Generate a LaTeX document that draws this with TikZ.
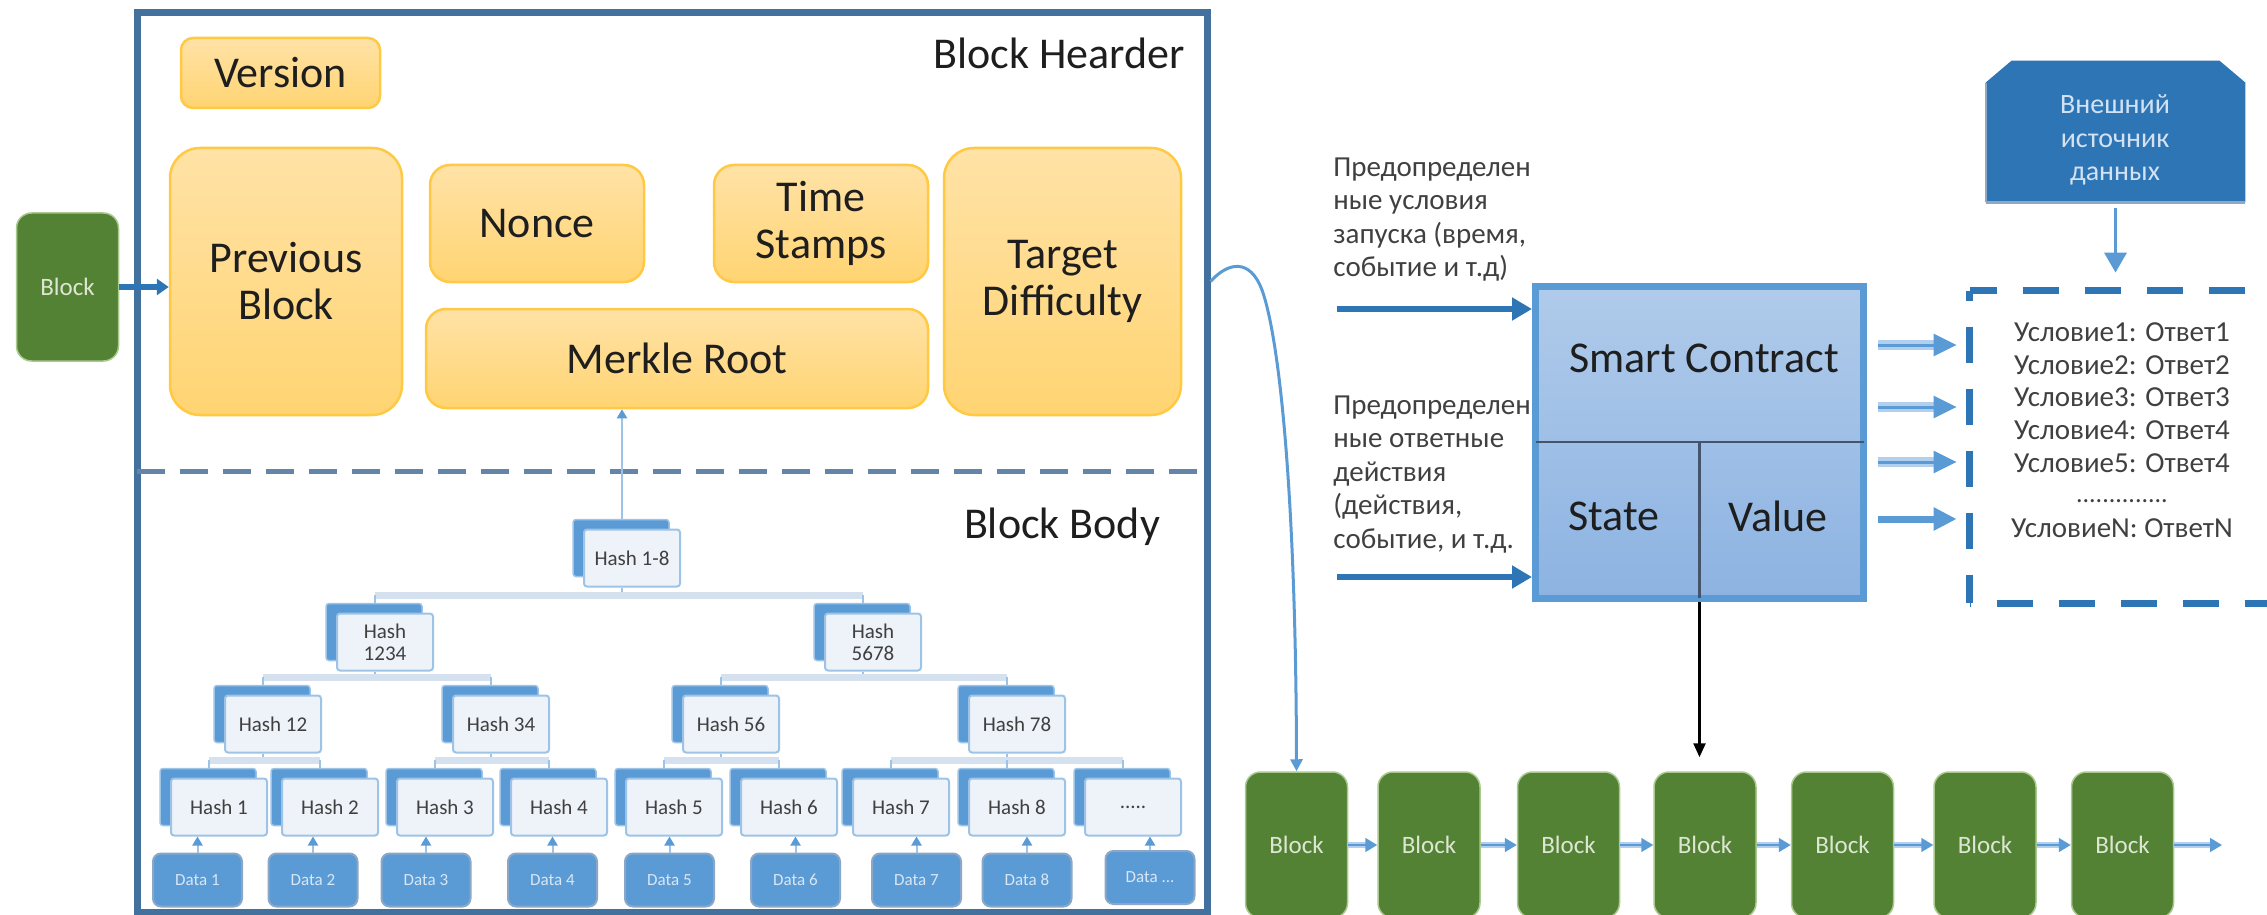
\documentclass[tikz,border=0pt]{standalone}
\usepackage{fontspec}
\setmainfont{Carlito}
\usetikzlibrary{arrows.meta,shadows}
\newcommand{\myfs}[2]{\fontsize{#1}{#2}\selectfont}
\definecolor{mainborder}{HTML}{41719C}
\definecolor{obord}{HTML}{FFC943}
\definecolor{otop}{HTML}{FFE2A6}
\definecolor{obot}{HTML}{FFD472}
\definecolor{txtdark}{HTML}{1E1E1E}
\definecolor{txtgray}{HTML}{404040}
\definecolor{hback}{HTML}{5B9BD5}
\definecolor{hfront}{HTML}{EEF3FA}
\definecolor{hedge}{HTML}{9DC3E6}
\definecolor{dfill}{HTML}{5B9BD5}
\definecolor{dedge}{HTML}{8AA7C7}
\definecolor{dtext}{HTML}{D9E6F4}
\definecolor{tbar}{HTML}{D5E1EE}
\definecolor{gfill}{HTML}{548235}
\definecolor{gedge}{HTML}{A9C98E}
\definecolor{gtext}{HTML}{DDE6D3}
\definecolor{sctop}{HTML}{B0CBEA}
\definecolor{scbot}{HTML}{8DB3E2}
\definecolor{midblue}{HTML}{5B9BD5}
\definecolor{darkblue}{HTML}{2E75B6}
\definecolor{paleblue}{HTML}{B3CFEE}
\definecolor{divgray}{HTML}{44546A}
\definecolor{sepcol}{HTML}{6585A8}
\definecolor{extfill}{HTML}{2E75B6}
\definecolor{extedge}{HTML}{8FA9C4}
\definecolor{extlabelcol}{HTML}{D3E2F3}
\begin{document}
\begin{tikzpicture}[x=0.5pt,y=-0.5pt,
  mainframe/.style={rectangle, draw=mainborder, line width=3.5pt, minimum width=535pt, minimum height=449.5pt, inner sep=0pt},
  titletxt/.style={font=\myfs{22}{24}, text=txtdark, inner sep=0pt},
  orangebox/.style={rectangle, draw=obord, line width=1.25pt, top color=otop, bottom color=obot, align=center, font=\myfs{22}{23.5}, text=txtdark, inner sep=0pt},
  sepline/.style={draw=sepcol, line width=2.5pt, dash pattern=on 14pt off 7.5pt},
  blockn/.style={rectangle, rounded corners=7.5pt, fill=gfill, draw=gedge, line width=0.75pt, minimum width=51pt, minimum height=73pt, text=gtext, font=\myfs{12.5}{14}, inner sep=0pt},
  lbarrow/.style={draw=darkblue, line width=3pt, -{Triangle[length=6pt,width=8pt]}},
  hashn/.style={rectangle, rounded corners=1.5pt, fill=hfront, draw=hedge, line width=1pt, minimum width=48pt, minimum height=28.5pt, inner sep=0pt, align=center, font=\myfs{10.5}{11}, text=txtgray, general shadow={fill=hback, draw=hedge, line width=0.75pt, shadow xshift=-5.5pt, shadow yshift=5pt}},
  datan/.style={rectangle, rounded corners=4pt, fill=dfill, draw=dedge, line width=1pt, minimum width=44.5pt, minimum height=26.5pt, inner sep=0pt, font=\myfs{8.5}{10}, text=dtext},
  treedrop/.style={draw=hedge, line width=1pt},
  treebar/.style={draw=tbar, line width=3.5pt},
  treetick/.style={draw=hedge, line width=1pt},
  thinarrow/.style={draw=hedge, line width=1pt, -{Triangle[length=4.5pt,width=5pt,color=midblue]}},
  scbox/.style={rectangle, draw=midblue, line width=3.5pt, top color=sctop, bottom color=scbot, minimum width=164pt, minimum height=156pt, inner sep=0pt},
  divline/.style={draw=divgray, line width=1.25pt},
  sctxt/.style={font=\myfs{22}{24}, text=txtdark, inner sep=0pt},
  ctext/.style={align=left, font=\myfs{14.5}{16.8}, text=txtgray, inner sep=0pt},
  inarrow/.style={draw=darkblue, line width=3pt, -{Triangle[length=10pt,width=11pt]}},
  outshaft/.style={draw=paleblue, line width=5pt, shorten <=5.25pt, shorten >=17pt},
  outcore/.style={draw=midblue, line width=1.5pt, shorten <=5.25pt, shorten >=6.5pt, -{Triangle[length=11.5pt,width=11pt]}},
  outsolid/.style={draw=midblue, line width=3.5pt, shorten <=5.25pt, shorten >=6.5pt, -{Triangle[length=11.5pt,width=11pt]}},
  conddash/.style={draw=darkblue, line width=3.5pt, dash pattern=on 18pt off 13pt},
  frame/.style={rectangle, inner sep=0pt},
  extarrow/.style={draw=midblue, line width=1.75pt, shorten <=3pt, shorten >=9pt, -{Triangle[length=10pt,width=11pt]}},
  exttxt/.style={align=center, font=\myfs{14}{16.75}, text=extlabelcol, inner sep=0pt},
  curvearrow/.style={draw=midblue, line width=1.5pt, -{Triangle[length=6pt,width=6pt]}},
  blackarrow/.style={draw=black, line width=1.25pt, shorten >=7pt, -{Triangle[length=7pt,width=6pt]}},
  chainshaft/.style={draw=paleblue, line width=3pt, shorten >=5pt},
  chaincore/.style={draw=midblue, line width=0.8pt, -{Triangle[length=6pt,width=7pt]}}
]
\path[use as bounding box] (0,0) rectangle (2267,915);
\clip (0,0) rectangle (2267,915);

% ---------- main block ----------
\node[mainframe] (mainbox) at (672,462.5) {};
\node[titletxt] (hdrtitle) at (1059,53) {Block Hearder};
\node[titletxt] (bodytitle) at (1062,527) {Block Body};

\node[orangebox, rounded corners=6pt, minimum width=99.5pt, minimum height=35pt] (ver) at (280.5,73) {Version};
\node[orangebox, rounded corners=15pt, minimum width=116pt, minimum height=133.5pt] (prev) at (286,281.5) {Previous\\Block};
\node[orangebox, rounded corners=10pt, minimum width=107pt, minimum height=58.5pt] (nonce) at (537,223.5) {Nonce};
\node[orangebox, rounded corners=10pt, minimum width=107pt, minimum height=58.5pt] (ts) at (821,223.5) {Time\\Stamps};
\node[orangebox, rounded corners=15pt, minimum width=118.5pt, minimum height=133.5pt] (td) at (1062.5,281.5) {Target\\Difficulty};
\node[orangebox, rounded corners=10pt, minimum width=251pt, minimum height=49.5pt] (mr) at (677,358.5) {Merkle Root};

\coordinate (dl) at (0,471);
\draw[sepline] ([xshift=1.75pt]mainbox.west |- dl) -- ([xshift=-1.75pt]mainbox.east |- dl);

% left block
\node[blockn, minimum height=74pt] (lb) at (67.5,287) {Block};
\draw[lbarrow] (lb.east) -- (lb.east -| prev.west);

% ---------- merkle tree ----------
\node[hashn] (h18) at (632,558) {Hash 1-8};
\node[hashn] (h1234) at (385,642) {Hash\\1234};
\node[hashn] (h5678) at (873,642) {Hash\\5678};
\node[hashn] (h12) at (273,724) {Hash 12};
\node[hashn] (h34) at (501,724) {Hash 34};
\node[hashn] (h56) at (731,724) {Hash 56};
\node[hashn] (h78) at (1017,724) {Hash 78};
\node[hashn] (h1) at (219,807) {Hash 1};
\node[hashn] (h2) at (330,807) {Hash 2};
\node[hashn] (h3) at (445,807) {Hash 3};
\node[hashn] (h4) at (559,807) {Hash 4};
\node[hashn] (h5) at (674,807) {Hash 5};
\node[hashn] (h6) at (789,807) {Hash 6};
\node[hashn] (h7) at (901,807) {Hash 7};
\node[hashn] (h8) at (1017,807) {Hash 8};
\node[hashn] (h9) at (1133,807) {.....};

\coordinate (bA) at (0,595);
\coordinate (bB) at (0,677);
\coordinate (bC) at (0,760);

% level 1
\draw[treedrop] ([xshift=-5pt]h18.south) -- ([xshift=-5pt]h18.south |- bA);
\draw[treebar] ([xshift=-5pt]h1234.north |- bA) -- ([xshift=-5pt]h5678.north |- bA);
\draw[treetick] ([xshift=-5pt]h1234.north |- bA) -- ([xshift=-5pt,yshift=5pt]h1234.north);
\draw[treetick] ([xshift=-5pt]h5678.north |- bA) -- ([xshift=-5pt,yshift=5pt]h5678.north);
% level 2
\draw[treedrop] ([xshift=-5pt]h1234.south) -- ([xshift=-5pt]h1234.south |- bB);
\draw[treebar] ([xshift=-5pt]h12.north |- bB) -- ([xshift=-5pt]h34.north |- bB);
\draw[treetick] ([xshift=-5pt]h12.north |- bB) -- ([xshift=-5pt,yshift=5pt]h12.north);
\draw[treetick] ([xshift=-5pt]h34.north |- bB) -- ([xshift=-5pt,yshift=5pt]h34.north);
\draw[treedrop] ([xshift=-5pt]h5678.south) -- ([xshift=-5pt]h5678.south |- bB);
\draw[treebar] ([xshift=-5pt]h56.north |- bB) -- ([xshift=-5pt]h78.north |- bB);
\draw[treetick] ([xshift=-5pt]h56.north |- bB) -- ([xshift=-5pt,yshift=5pt]h56.north);
\draw[treetick] ([xshift=-5pt]h78.north |- bB) -- ([xshift=-5pt,yshift=5pt]h78.north);
% level 3
\draw[treedrop] ([xshift=-5pt]h12.south) -- ([xshift=-5pt]h12.south |- bC);
\draw[treebar] ([xshift=-5pt]h1.north |- bC) -- ([xshift=-5pt]h2.north |- bC);
\draw[treetick] ([xshift=-5pt]h1.north |- bC) -- ([xshift=-5pt,yshift=5pt]h1.north);
\draw[treetick] ([xshift=-5pt]h2.north |- bC) -- ([xshift=-5pt,yshift=5pt]h2.north);
\draw[treedrop] ([xshift=-5pt]h34.south) -- ([xshift=-5pt]h34.south |- bC);
\draw[treebar] ([xshift=-5pt]h3.north |- bC) -- ([xshift=-5pt]h4.north |- bC);
\draw[treetick] ([xshift=-5pt]h3.north |- bC) -- ([xshift=-5pt,yshift=5pt]h3.north);
\draw[treetick] ([xshift=-5pt]h4.north |- bC) -- ([xshift=-5pt,yshift=5pt]h4.north);
\draw[treedrop] ([xshift=-5pt]h56.south) -- ([xshift=-5pt]h56.south |- bC);
\draw[treebar] ([xshift=-5pt]h5.north |- bC) -- ([xshift=-5pt]h6.north |- bC);
\draw[treetick] ([xshift=-5pt]h5.north |- bC) -- ([xshift=-5pt,yshift=5pt]h5.north);
\draw[treetick] ([xshift=-5pt]h6.north |- bC) -- ([xshift=-5pt,yshift=5pt]h6.north);
\draw[treedrop] ([xshift=-5pt]h78.south) -- ([xshift=-5pt]h78.south |- bC);
\draw[treebar] ([xshift=-5pt]h7.north |- bC) -- ([xshift=-5pt]h9.north |- bC);
\draw[treetick] ([xshift=-5pt]h7.north |- bC) -- ([xshift=-5pt,yshift=5pt]h7.north);
\draw[treetick] ([xshift=-5pt]h8.north |- bC) -- ([xshift=-5pt,yshift=5pt]h8.north);
\draw[treetick] ([xshift=-5pt]h9.north |- bC) -- ([xshift=-5pt,yshift=5pt]h9.north);

% root to merkle
\draw[thinarrow] ([xshift=-5pt,yshift=5pt]h18.north) -- ([xshift=-5pt]h18.north |- mr.south);

% data
\node[datan] (d1) at (197.5,880) {Data 1};
\node[datan] (d2) at (313,880) {Data 2};
\node[datan] (d3) at (426,880) {Data 3};
\node[datan] (d4) at (552.5,880) {Data 4};
\node[datan] (d5) at (669.5,880) {Data 5};
\node[datan] (d6) at (795.5,880) {Data 6};
\node[datan] (d7) at (916.5,880) {Data 7};
\node[datan] (d8) at (1027,880) {Data 8};
\node[datan] (d9) at (1150,877.5) {Data ...};
\draw[thinarrow] (d1.north) -- (d1.north |- h1.south);
\draw[thinarrow] (d2.north) -- (d2.north |- h2.south);
\draw[thinarrow] (d3.north) -- (d3.north |- h3.south);
\draw[thinarrow] (d4.north) -- (d4.north |- h4.south);
\draw[thinarrow] (d5.north) -- (d5.north |- h5.south);
\draw[thinarrow] (d6.north) -- (d6.north |- h6.south);
\draw[thinarrow] (d7.north) -- (d7.north |- h7.south);
\draw[thinarrow] (d8.north) -- (d8.north |- h8.south);
\draw[thinarrow] (d9.north) -- (d9.north |- h9.south);

% ---------- chain ----------
\node[blockn] (b1) at (1296.5,845) {Block};
\node[blockn] (b2) at (1429,845) {Block};
\node[blockn] (b3) at (1568.5,845) {Block};
\node[blockn] (b4) at (1705,845) {Block};
\node[blockn] (b5) at (1842.5,845) {Block};
\node[blockn] (b6) at (1985,845) {Block};
\node[blockn] (b7) at (2122.5,845) {Block};
\coordinate (chainend) at (2222,845);
\draw[chainshaft] (b1.east) -- (b2.west); \draw[chaincore] (b1.east) -- (b2.west);
\draw[chainshaft] (b2.east) -- (b3.west); \draw[chaincore] (b2.east) -- (b3.west);
\draw[chainshaft] (b3.east) -- (b4.west); \draw[chaincore] (b3.east) -- (b4.west);
\draw[chainshaft] (b4.east) -- (b5.west); \draw[chaincore] (b4.east) -- (b5.west);
\draw[chainshaft] (b5.east) -- (b6.west); \draw[chaincore] (b5.east) -- (b6.west);
\draw[chainshaft] (b6.east) -- (b7.west); \draw[chaincore] (b6.east) -- (b7.west);
\draw[chainshaft] (b7.east) -- (chainend); \draw[chaincore] (b7.east) -- (chainend);

% curve from header to chain
\draw[curvearrow] (mainbox.east |- td.center) .. controls (1228,262) and (1250,258) .. (1262,290) .. controls (1280,340) and (1296,500) .. (b1.north);

% ---------- smart contract ----------
\node[scbox] (sc) at (1699.5,442) {};
\draw[divline, shorten <=1.75pt, shorten >=1.75pt] (sc.west) -- (sc.east);
\draw[divline, shorten >=1.75pt] (sc.center) -- (sc.south);
\node[sctxt] (sctitle) at (1704,358) {Smart Contract};
\node[sctxt] (scstate) at (1614,516) {State};
\node[sctxt] (scvalue) at (1778,516) {Value};
\draw[blackarrow] (sc.south) -- (sc.south |- b4.north);

\coordinate (inA) at (1337,309);
\coordinate (inB) at (1337,577);
\draw[inarrow] (inA) -- (inA -| sc.west);
\draw[inarrow] (inB) -- (inB -| sc.west);
\node[ctext, anchor=north west] (trig) at (1333,157) {Предопределен\\ные условия\\запуска (время,\\событие и т.д)};
\node[ctext, anchor=north west] (resp) at (1333,395) {Предопределен\\ные ответные\\действия\\(действия,\\событие, и т.д.};

% condition box
\node[frame, minimum width=165pt, minimum height=156pt] (cond) at (2135,447) {};
\draw[conddash, dash phase=13pt] (cond.north west) -- (cond.south west);
\draw[conddash, dash phase=4.5pt] (cond.north west) -- (cond.north east);
\draw[conddash, dash phase=17.5pt] (cond.south west) -- (cond.south east);
\node[ctext, align=center, anchor=north, font=\myfs{14.5}{16.4}] (condtxt) at (2122,322) {Условие1: Ответ1\\Условие2: Ответ2\\Условие3: Ответ3\\Условие4: Ответ4\\Условие5: Ответ4\\[-1.4pt]{\myfs{13}{16.4}..............}\\[1.1pt]УсловиеN: ОтветN};

\coordinate (oA) at (0,345);
\coordinate (oB) at (0,407);
\coordinate (oC) at (0,462);
\coordinate (oD) at (0,519);
\draw[outshaft] (sc.east |- oA) -- (cond.west |- oA);
\draw[outcore] (sc.east |- oA) -- (cond.west |- oA);
\draw[outshaft] (sc.east |- oB) -- (cond.west |- oB);
\draw[outcore] (sc.east |- oB) -- (cond.west |- oB);
\draw[outshaft] (sc.east |- oC) -- (cond.west |- oC);
\draw[outcore] (sc.east |- oC) -- (cond.west |- oC);
\draw[outsolid] (sc.east |- oD) -- (cond.west |- oD);

% external data source
\node[frame, minimum width=129.5pt, minimum height=70.5pt] (ext) at (2115.5,131.5) {};
\fill[extfill] (ext.south west) -- ([yshift=-11pt]ext.north west) -- ([xshift=13pt]ext.north west) -- ([xshift=-13pt]ext.north east) -- ([yshift=-11pt]ext.north east) -- (ext.south east) -- cycle;
\draw[extedge, line width=1.5pt] (ext.south west) -- (ext.south east);
\draw[extedge, line width=1pt] ([yshift=-11pt]ext.north west) -- (ext.south west);
\node[exttxt] (extlabel) at (2115,140) {Внешний\\источник\\данных};
\draw[extarrow] (ext.south) -- (ext.south |- cond.north);
\end{tikzpicture}
\end{document}
